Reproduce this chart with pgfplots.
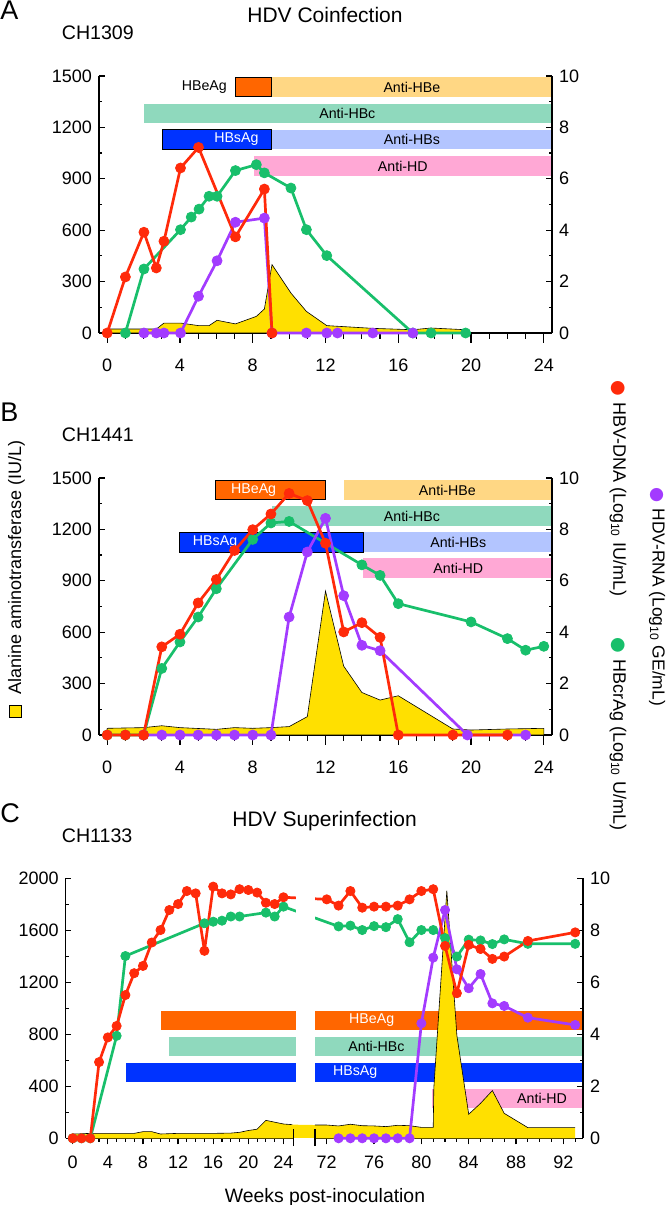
\documentclass[border=0pt]{standalone}
\usepackage{fontspec}
\setmainfont{Liberation Sans}
\newfontfamily\dejavu{DejaVu Sans}
\usepackage{pgfplots}
\usepackage{pgfplotstable}
\pgfplotsset{compat=1.18}

\definecolor{cRed}{HTML}{FF2A0A}
\definecolor{cPur}{HTML}{A33BFF}
\definecolor{cGrn}{HTML}{18BF6B}
\definecolor{cAlt}{HTML}{FFE000}
\definecolor{cHBeAg}{HTML}{FF6600}
\definecolor{cAHBe}{HTML}{FFD784}
\definecolor{cAHBc}{HTML}{8FD9BD}
\definecolor{cHBsAg}{HTML}{0033FF}
\definecolor{cAHBs}{HTML}{B3C5FF}
\definecolor{cAHD}{HTML}{FFA8D5}

% ---------- Panel A data ----------
\pgfplotstableread{
w v
0 0
1.0 2.18
2.02 3.92
2.7 2.53
3.12 3.57
4.03 6.42
5.02 7.22
7.05 3.74
8.64 5.60
9.06 0
}\Ared
\pgfplotstableread{
w v
1 0
2.02 2.49
4.03 4.02
4.62 4.51
5.05 4.82
5.6 5.32
6.04 5.32
7.05 6.32
8.2 6.55
8.64 6.23
10.1 5.64
10.95 4.02
12.07 3.01
16.8 0
17.8 0
19.7 0
}\Agrn
\pgfplotstableread{
w v
2.02 0
2.7 0
3.12 0
4.03 0
5.02 1.43
6.04 2.81
7.05 4.31
8.64 4.47
9.06 0
10.95 0
12.07 0
12.66 0
14.6 0
16.8 0
}\Apur
\pgfplotstableread{
w v
0 23
2.7 23
3.12 58
4.03 58
5.02 43
5.6 43
6.04 74
7.05 53
8.2 97
8.64 140
9.06 399
10.1 233
10.95 126
12.07 43
14.6 27
16.8 19
17.8 29
19.7 19
}\Aalt

% ---------- Panel B data ----------
\pgfplotstableread{
w v
0 0
1 0
2 0
3 3.43
4 3.92
5 5.14
6 6.05
7 7.18
8 7.99
9 8.60
10 9.40
11 9.12
12 7.46
13 4.01
14 4.37
15 3.80
16 0
19 0
22 0
}\Bred
\pgfplotstableread{
w v
0 0
1 0
2 0
3 2.59
4 3.62
5 4.59
6 5.69
8 7.61
9 8.25
10 8.31
14 6.62
15 6.21
16 5.11
20 4.40
22 3.75
23 3.30
24 3.45
}\Bgrn
\pgfplotstableread{
w v
2 0
3 0
4 0
5 0
6 0
7 0
8 0
9 0
10 4.59
11 7.12
12 8.43
13 5.42
14 3.49
15 3.28
19.8 0
23 0
}\Bpur
\pgfplotstableread{
w v
0 39
2 43
3 54
4 43
6 33
7 43
8 39
9 43
10 49
11 107
12 840
13 402
14 248
15 204
16 229
19 35
20 29
22 35
24 39
}\Balt

% ---------- Panel C data ----------
\pgfplotstableread{
w v
0 0
1 0
2 0
3 2.93
4 3.88
5 4.32
6 5.51
7 6.35
8 6.63
9 7.53
10 8.01
11 8.78
12 9.01
13 9.51
14 9.42
15 7.21
16 9.68
17 9.42
18 9.38
19 9.58
20 9.55
21 9.45
22 9.06
23 9.01
24 9.27
72 9.19
73 8.95
74 9.51
75 8.87
76 8.91
77 8.91
78 8.95
79 9.19
80 9.51
81 9.58
82 7.40
83 5.58
84 7.44
85 7.28
86 6.90
87 6.99
89 7.59
93 7.92
}\Cred
\pgfplotstableread{
w v
0 0
1 0
2 0
5 3.94
6 7.01
15 8.27
16 8.33
17 8.37
18 8.53
19 8.53
22 8.68
23 8.53
24 8.91
73 8.15
74 8.18
75 8.01
76 8.16
77 8.12
78 8.43
79 7.54
80 8.01
81 8.01
82 7.70
83 6.99
84 7.64
85 7.61
86 7.47
87 7.65
89 7.48
93 7.48
}\Cgrn
\pgfplotstableread{
w v
73 0
74 0
75 0
76 0
77 0
78 0
79 0
80 4.42
81 6.95
82 8.78
83 6.50
84 5.77
85 6.32
86 5.19
87 5.09
89 4.64
93 4.36
}\Cpur
\pgfplotstableread{
w v
0 33
1 35
2 38
7 38
8 51
9 51
10 33
12 38
16 38
18 40
19 46
20 60
21 70
22 138
23 124
24 110
25 105
71 102
72 102
73 95
74 108
75 97
76 95
77 90
78 100
79 97
80 84
81 84
81.05 385
82.15 1905
83 790
84 185
85 269
86 367
87 192
89 82
93 82
}\Calt
\pgfplotstableread{
w v
0 33
1 35
2 38
7 38
8 51
9 51
10 33
12 38
16 38
18 40
19 46
20 60
21 70
22 138
23 124
24 110
25 105
}\CaltL
\pgfplotstableread{
w v
71 102
72 102
73 95
74 108
75 97
76 95
77 90
78 100
79 97
80 84
81 84
81.05 385
82.15 1905
83 790
84 185
85 269
86 367
87 192
89 82
93 82
}\CaltR

\newcommand{\tbar}[6]{\addplot[fill=#1,draw=#2,line width=0.5pt] coordinates {(#3,#5) (#4,#5) (#4,#6) (#3,#6)} --cycle;}

\tikzset{lbl/.style={font=\fontsize{7.1}{8}\selectfont, inner sep=0pt}}
\pgfplotsset{
  common/.style={scale only axis, anchor=south west, clip=false,
    /pgf/number format/assume math mode=true, /pgf/number format/1000 sep={},
    scaled ticks=false,
    tick label style={font=\fontsize{9}{10}\selectfont, black},
    axis line style={black, line width=0.6pt, -},
    tick style={black, line width=0.6pt}},
  ABgeom/.style={width=226.5pt, height=128.5pt, xmin=-0.45, xmax=24.45},
  Cgeom/.style={width=258.65pt, height=130pt,
    x coord trafo/.code={\pgfmathparse{(##1>48)*(28.93+1.3474*(##1-72))+(##1<=48)*(##1)}},
    x coord inv trafo/.code={\pgfmathparse{(##1>26.5)*(72+(##1-28.93)/1.3474)+(##1<=26.5)*(##1)}},
    xmin=-0.8, xmax=93.66},
  Xax/.style={common, axis y line=none, axis x line*=bottom, tick align=outside, ymin=0, ymax=1},
  Lax/.style={common, axis x line=none, axis y line*=left, tick align=inside, minor y tick num=1,
    major tick length=2.8pt, minor tick length=1.6pt},
  Rax/.style={common, axis x line=none, axis y line*=right, tick align=inside, ymin=0, ymax=10,
    ytick={0,2,...,10}, minor y tick num=1, major tick length=2.8pt, minor tick length=1.6pt},
}
\tikzset{ser/.style n args={2}{#1, line width=1.35pt, line join=round, mark=*, mark size=#2,
    mark options={solid, fill=#1, draw=#1, line width=0.4pt}}}

\begin{document}
\begin{tikzpicture}
\useasboundingbox (0,0) rectangle (333pt,602.5pt);

% ================= Panel A =================
\begin{axis}[Xax, ABgeom, at={(49.5pt,436pt)}, xtick={0,4,...,24}, minor x tick num=3,
  major tick length=5pt, minor tick length=3pt, xticklabel shift=4.5pt]
\addplot[draw=none] coordinates {(0,0)};
\end{axis}
\begin{axis}[Lax, ABgeom, at={(49.5pt,436pt)}, ymin=0, ymax=1500, ytick={0,300,...,1500}]
\tbar{cAHBe}{none}{9.05}{24.45}{1378}{1492}
\tbar{cHBeAg}{black}{7.03}{9.05}{1378}{1492}
\tbar{cAHBc}{none}{2.02}{24.45}{1225}{1339}
\tbar{cAHBs}{none}{9.05}{24.45}{1073}{1187}
\tbar{cHBsAg}{black}{3.03}{9.05}{1073}{1187}
\tbar{cAHD}{none}{8.05}{24.45}{918}{1032}
\node[lbl, anchor=east] at (axis cs:6.6,1435) {HBeAg};
\node[lbl] at (axis cs:16.75,1435) {Anti-HBe};
\node[lbl] at (axis cs:13.2,1282) {Anti-HBc};
\node[lbl, text=white] at (axis cs:7.1,1130) {HBsAg};
\node[lbl] at (axis cs:16.75,1130) {Anti-HBs};
\node[lbl] at (axis cs:16.25,975) {Anti-HD};
\addplot[fill=cAlt, draw=black, line width=0.3pt] table[x=w,y=v]{\Aalt} \closedcycle;
\end{axis}
\begin{axis}[Rax, ABgeom, at={(49.5pt,436pt)}]
\addplot[ser={cGrn}{2.5pt}] table[x=w,y=v]{\Agrn};
\addplot[ser={cPur}{2.5pt}] table[x=w,y=v]{\Apur};
\addplot[ser={cRed}{2.5pt}] table[x=w,y=v]{\Ared};
\end{axis}

% ================= Panel B =================
\begin{axis}[Xax, ABgeom, at={(49.5pt,235pt)}, xtick={0,4,...,24}, minor x tick num=3,
  major tick length=5pt, minor tick length=3pt, xticklabel shift=4.5pt]
\addplot[draw=none] coordinates {(0,0)};
\end{axis}
\begin{axis}[Lax, ABgeom, at={(49.5pt,235pt)}, ymin=0, ymax=1500, ytick={0,300,...,1500}]
\tbar{cHBeAg}{black}{5.98}{12.02}{1372}{1488}
\tbar{cAHBe}{none}{13.0}{24.45}{1372}{1488}
\tbar{cAHBc}{none}{9.04}{24.45}{1222}{1335}
\tbar{cAHBs}{none}{14.07}{24.45}{1067}{1183}
\tbar{cHBsAg}{black}{3.99}{14.07}{1067}{1183}
\tbar{cAHD}{none}{14.07}{24.45}{918}{1032}
\node[lbl, text=white] at (axis cs:8.05,1430) {HBeAg};
\node[lbl] at (axis cs:18.7,1430) {Anti-HBe};
\node[lbl] at (axis cs:16.75,1278) {Anti-HBc};
\node[lbl, text=white] at (axis cs:5.93,1125) {HBsAg};
\node[lbl] at (axis cs:19.3,1125) {Anti-HBs};
\node[lbl] at (axis cs:19.3,975) {Anti-HD};
\addplot[fill=cAlt, draw=black, line width=0.3pt] table[x=w,y=v]{\Balt} \closedcycle;
\end{axis}
\begin{axis}[Rax, ABgeom, at={(49.5pt,235pt)}]
\addplot[ser={cGrn}{2.5pt}] table[x=w,y=v]{\Bgrn};
\addplot[ser={cPur}{2.5pt}] table[x=w,y=v]{\Bpur};
\addplot[ser={cRed}{2.5pt}] table[x=w,y=v]{\Bred};
\end{axis}

% ================= Panel C =================
\begin{axis}[Xax, Cgeom, at={(32.85pt,33.35pt)},
  xtick={0,4,8,12,16,20,24,72,76,80,84,88,92},
  xticklabels={0,4,8,12,16,20,24,72,76,80,84,88,92},
  minor xtick={1,2,3,5,6,7,9,10,11,13,14,15,17,18,19,21,22,23,73,74,75,77,78,79,81,82,83,85,86,87,89,90,91,93},
  major tick length=3pt, minor tick length=1.8pt, xticklabel shift=2.5pt]
\addplot[draw=none] coordinates {(0,0)};
\end{axis}
\begin{axis}[Lax, Cgeom, at={(32.85pt,33.35pt)}, ymin=0, ymax=2000, ytick={0,400,...,2000}]
\tbar{cHBeAg}{none}{10.06}{93.66}{833}{982}
\tbar{cAHBc}{none}{10.97}{93.66}{633}{782}
\tbar{cHBsAg}{none}{6.07}{93.66}{431}{582}
\tbar{cAHD}{none}{80.9}{93.66}{231}{379}
\node[lbl, text=white] at (axis cs:75.8,907) {HBeAg};
\node[lbl] at (axis cs:76.2,707) {Anti-HBc};
\node[lbl, text=white] at (axis cs:74.4,506) {HBsAg};
\node[lbl] at (axis cs:90.2,305) {Anti-HD};
\addplot[fill=cAlt, draw=none] table[x=w,y=v]{\Calt} \closedcycle;
\addplot[black, line width=0.3pt] table[x=w,y=v]{\CaltL};
\addplot[black, line width=0.3pt] table[x=w,y=v]{\CaltR};
\end{axis}
\begin{axis}[Rax, Cgeom, at={(32.85pt,33.35pt)}]
\addplot[ser={cGrn}{2.3pt}] table[x=w,y=v]{\Cgrn};
\addplot[ser={cPur}{2.3pt}] table[x=w,y=v]{\Cpur};
\addplot[ser={cRed}{2.3pt}] table[x=w,y=v]{\Cred};
\fill[white] (axis cs:25.4,0.6) rectangle (axis cs:71.0,10.4);
\fill[white] (axis cs:25.1,-0.4) rectangle (axis cs:71.0,0);
\draw[line width=0.6pt] (axis cs:25.1,-0.3) -- (axis cs:25.1,0.35);
\draw[line width=0.6pt] (axis cs:71.0,-0.3) -- (axis cs:71.0,0.35);
\end{axis}

% ================= Texts =================
\node[anchor=base west, inner sep=0, font=\fontsize{13.5}{15}\selectfont] at (0pt,592.5pt) {A};
\node[anchor=base, inner sep=0, font=\fontsize{10.5}{12}\selectfont] at (162.5pt,591pt) {HDV Coinfection};
\node[anchor=base west, inner sep=0, font=\fontsize{9.8}{11}\selectfont] at (30.75pt,582.5pt) {CH1309};

\node[anchor=base west, inner sep=0, font=\fontsize{13.5}{15}\selectfont] at (0pt,391.5pt) {B};
\node[anchor=base west, inner sep=0, font=\fontsize{9.8}{11}\selectfont] at (30.75pt,381.5pt) {CH1441};

\node[anchor=base west, inner sep=0, font=\fontsize{13.5}{15}\selectfont] at (0pt,191pt) {C};
\node[anchor=base, inner sep=0, font=\fontsize{10.5}{12}\selectfont] at (162.3pt,189pt) {HDV Superinfection};
\node[anchor=base west, inner sep=0, font=\fontsize{9.8}{11}\selectfont] at (30.75pt,181pt) {CH1133};

\node[anchor=base, inner sep=0, font=\fontsize{9.7}{11}\selectfont] at (162.5pt,1.5pt) {Weeks post-inoculation};

\node[rotate=90, anchor=west, inner sep=0, font=\fontsize{9}{10}\selectfont] at (8.25pt,243.5pt)
  {{\fboxsep=0pt\fboxrule=0.4pt\fcolorbox{black}{cAlt}{\rule{0pt}{5.5pt}\hspace{5.5pt}}}\hspace{5pt}Alanine aminotransferase (IU/L)};

\node[rotate=-90, anchor=west, inner sep=0, font=\fontsize{9}{10}\selectfont] at (309pt,412.5pt)
  {{\dejavu\textcolor{cRed}{●}}\hspace{3pt}HBV-DNA (Log\textsubscript{10} IU/mL)};
\node[rotate=-90, anchor=west, inner sep=0, font=\fontsize{8.7}{10}\selectfont] at (328.5pt,359pt)
  {{\dejavu\textcolor{cPur}{●}}\hspace{3pt}HDV-RNA (Log\textsubscript{10} GE/mL)};
\node[rotate=-90, anchor=west, inner sep=0, font=\fontsize{9}{10}\selectfont] at (309pt,284pt)
  {{\dejavu\textcolor{cGrn}{●}}\hspace{3pt}HBcrAg (Log\textsubscript{10} U/mL)};
\end{tikzpicture}
\end{document}
